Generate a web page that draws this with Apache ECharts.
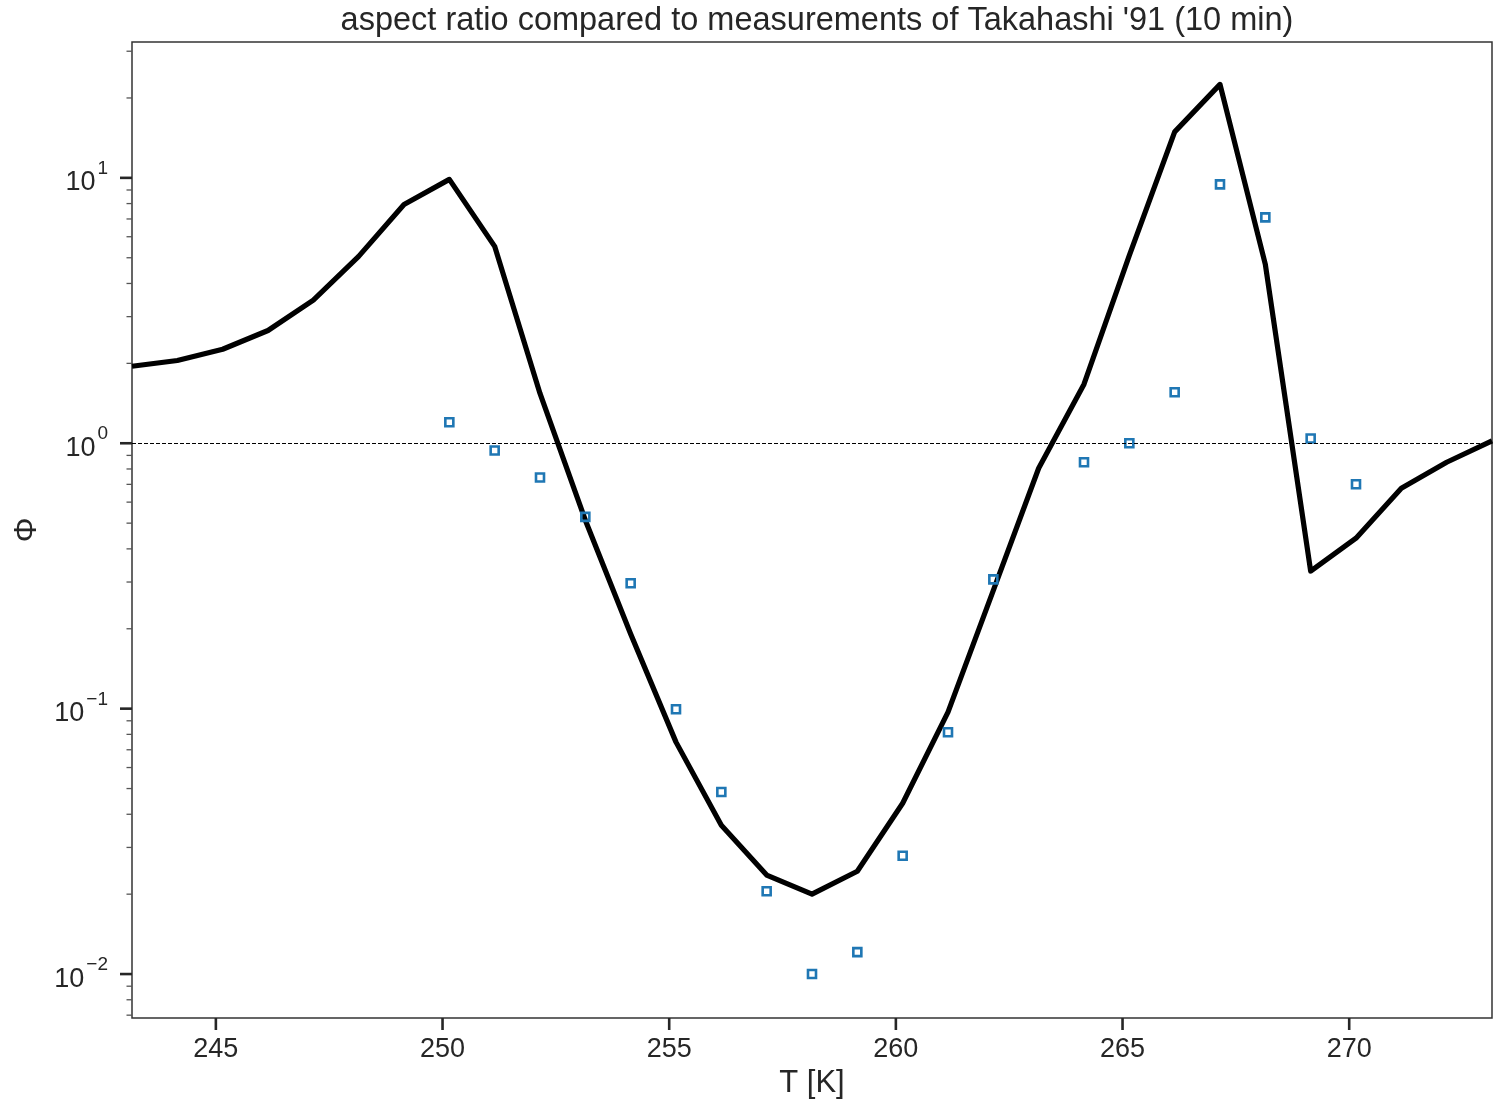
<!DOCTYPE html>
<html>
<head>
<meta charset="utf-8">
<script src="https://cdn.jsdelivr.net/npm/echarts@6/dist/echarts.min.js"></script>
<style>
  html, body { margin: 0; padding: 0; background: #fff; }
  #chart { width: 1495px; height: 1112px; }
</style>
</head>
<body>
<div id="chart"></div>
<script>
// model curve, T in K
const tModel = [243.15, 244.15, 245.15, 246.15, 247.15, 248.15, 249.15, 250.15, 251.15, 252.15,
  253.15, 254.15, 255.15, 256.15, 257.15, 258.15, 259.15, 260.15, 261.15, 262.15,
  263.15, 264.15, 265.15, 266.15, 267.15, 268.15, 269.15, 270.15, 271.15, 272.15, 273.15];
const phiModel = [1.95, 2.05, 2.26, 2.66, 3.46, 5.06, 7.94, 9.87, 5.52, 1.54,
  0.513, 0.191, 0.0748, 0.0364, 0.0236, 0.020, 0.0244, 0.044, 0.097, 0.279,
  0.805, 1.67, 5.1, 14.9, 22.5, 4.72, 0.33, 0.439, 0.677, 0.848, 1.02];

// Takahashi '91 measurements
const tObs = [250.15, 251.15, 252.15, 253.15, 254.15, 255.15, 256.15, 257.15, 258.15, 259.15,
  260.15, 261.15, 262.15, 264.15, 265.15, 266.15, 267.15, 268.15, 269.15, 270.15];
const phiObs = [1.20, 0.939, 0.743, 0.528, 0.297, 0.0995, 0.0485, 0.0205, 0.0100, 0.0121,
  0.0279, 0.0815, 0.307, 0.848, 1.0, 1.556, 9.45, 7.1, 1.042, 0.701];

// axes
const X_MIN = 243.15, X_MAX = 273.15;
const Y_MIN = 0.00683, Y_MAX = 32.5;
const xTicks = [245, 250, 255, 260, 265, 270];
const yMajorTicks = [0.01, 0.1, 1, 10];
const yMinorTicks = [0.007, 0.008, 0.009,
  0.02, 0.03, 0.04, 0.05, 0.06, 0.07, 0.08, 0.09,
  0.2, 0.3, 0.4, 0.5, 0.6, 0.7, 0.8, 0.9,
  2, 3, 4, 5, 6, 7, 8, 9, 20, 30];

const FONT = "'Liberation Sans', Arial, sans-serif";
const TXT = '#262626';

// tick marks drawn through the axis scales: [x, y, kind] kind 0 = x major, 1 = y major, 2 = y minor
const tickData = [
  ...xTicks.map((v) => [v, Y_MIN, 0]),
  ...yMajorTicks.map((v) => [X_MIN, v, 1]),
  ...yMinorTicks.map((v) => [X_MIN, v, 2]),
];

function logLabel(value) {
  const lg = Math.log10(value);
  const e = Math.round(lg);
  if (Math.abs(lg - e) > 1e-6) return '';
  const exp = String(e).replace('-', '\u2212');
  return '{b|10}{e|' + exp + '}';
}

const chart = echarts.init(document.getElementById('chart'), null, { renderer: 'canvas' });

chart.setOption({
  animation: false,
  backgroundColor: '#fff',
  textStyle: { fontFamily: FONT },
  title: {
    text: "aspect ratio compared to measurements of Takahashi '91 (10 min)",
    left: 812,
    textAlign: 'center',
    top: 0,
    textStyle: { fontFamily: FONT, fontSize: 32.5, fontWeight: 'normal', color: TXT },
  },
  grid: {
    left: 132, right: 3, top: 42, bottom: 94,
    show: true, borderColor: '#333', borderWidth: 1.5,
    containLabel: false,
  },
  xAxis: {
    type: 'value',
    min: X_MIN,
    max: X_MAX,
    splitNumber: 6,
    name: 'T [K]',
    nameLocation: 'middle',
    nameGap: 48,
    nameTextStyle: { fontFamily: FONT, fontSize: 31, color: TXT },
    axisLine: { show: false },
    axisTick: { show: false },
    splitLine: { show: false },
    axisLabel: {
      showMinLabel: false,
      showMaxLabel: false,
      margin: 18,
      fontSize: 27,
      fontFamily: FONT,
      color: TXT,
      formatter: (v) => (Math.abs(v % 5) < 1e-9 ? String(v) : ''),
    },
  },
  yAxis: {
    type: 'log',
    logBase: 10,
    min: Y_MIN,
    max: Y_MAX,
    name: '\u03A6',
    nameLocation: 'middle',
    nameRotate: 90,
    nameGap: 86,
    nameTextStyle: { fontFamily: FONT, fontSize: 31, color: TXT },
    axisLine: { show: false },
    axisTick: { show: false },
    splitLine: { show: false },
    minorTick: { show: false },
    axisLabel: {
      showMinLabel: false,
      showMaxLabel: false,
      margin: 24,
      color: TXT,
      formatter: logLabel,
      rich: {
        b: { fontSize: 27, fontFamily: FONT, color: TXT, padding: [10, 0, 0, 0], verticalAlign: 'bottom' },
        e: { fontSize: 19, fontFamily: FONT, color: TXT, verticalAlign: 'top', padding: [0, 0, 0, 2] },
      },
    },
  },
  series: [
    {
      name: 'ticks',
      type: 'custom',
      silent: true,
      clip: false,
      z: 1,
      data: tickData,
      renderItem: (params, api) => {
        const p = api.coord([api.value(0), api.value(1)]);
        const kind = api.value(2);
        let shape;
        let style;
        if (kind === 0) {
          shape = { x1: p[0], y1: p[1], x2: p[0], y2: p[1] + 12 };
          style = { stroke: TXT, lineWidth: 2.6 };
        } else if (kind === 1) {
          shape = { x1: p[0], y1: p[1], x2: p[0] - 12, y2: p[1] };
          style = { stroke: TXT, lineWidth: 2.6 };
        } else {
          shape = { x1: p[0], y1: p[1], x2: p[0] - 5.5, y2: p[1] };
          style = { stroke: '#555', lineWidth: 1.3 };
        }
        return { type: 'line', shape, style };
      },
    },
    {
      name: 'model',
      type: 'line',
      data: tModel.map((t, i) => [t, phiModel[i]]),
      symbol: 'none',
      lineStyle: { color: '#000', width: 5.2, join: 'round' },
      z: 3,
      markLine: {
        silent: true,
        symbol: 'none',
        label: { show: false },
        lineStyle: { color: '#000', width: 1, type: [4, 2] },
        data: [{ yAxis: 1 }],
      },
    },
    {
      name: 'Takahashi',
      type: 'scatter',
      data: tObs.map((t, i) => [t, phiObs[i]]),
      symbol: 'rect',
      symbolSize: 8,
      itemStyle: { color: 'rgba(0,0,0,0)', borderColor: '#1f77b4', borderWidth: 2.6, opacity: 1 },
      z: 4,
    },
  ],
});
</script>
</body>
</html>
